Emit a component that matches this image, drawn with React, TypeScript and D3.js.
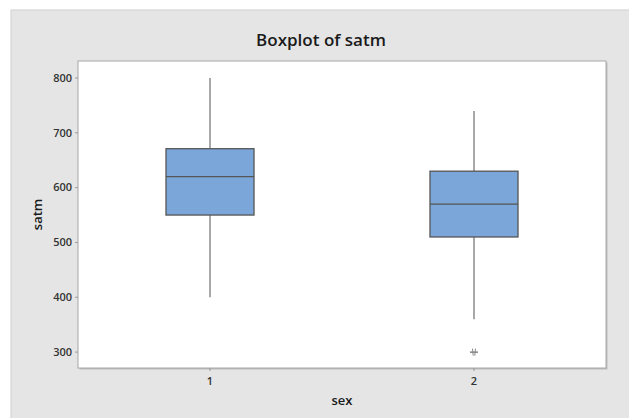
import * as d3 from "d3";

// 値は図から読み取り
const categories = ["1", "2"];
const whiskerLow = [400, 360];
const q1 = [550, 510];
const median = [620, 570];
const q3 = [671, 630];
const whiskerHigh = [800, 740];
const outliers = [[], [300]];
const yTickValues = [300, 400, 500, 600, 700, 800];

const width = 629;
const height = 418;
const plot = { left: 78, top: 61, right: 606, bottom: 368 };
const font = "'Open Sans', 'Noto Sans', sans-serif";

export default function App() {
  const x = d3
    .scalePoint<string>()
    .domain(categories)
    .range([plot.left, plot.right])
    .padding(0.5);
  const y = d3.scaleLinear().domain([271, 831]).range([plot.bottom, plot.top]);
  const boxWidth = 88;

  const boxes = categories.map((c, i) => ({
    name: c,
    cx: x(c) ?? 0,
    low: y(whiskerLow[i]),
    q1: y(q1[i]),
    med: y(median[i]),
    q3: y(q3[i]),
    high: y(whiskerHigh[i]),
    outliers: outliers[i].map((v) => y(v)),
  }));

  return (
    <svg
      width={width}
      height={height}
      style={{ position: "absolute", left: 0, top: 0, background: "#fff" }}
    >
      {/* 背景パネル */}
      <rect x={11} y={10} width={width} height={height} fill="#e5e5e5" stroke="#cfcfcf" />
      <text
        x={321}
        y={46}
        textAnchor="middle"
        style={{ fontFamily: font, fontSize: "17px", fontWeight: 600, fill: "#1a1a1a" }}
      >
        Boxplot of satm
      </text>

      {/* プロット領域 */}
      <rect
        x={plot.left + 1.5}
        y={plot.top + 1.5}
        width={plot.right - plot.left}
        height={plot.bottom - plot.top}
        fill="#bdbdbd"
      />
      <rect
        x={plot.left}
        y={plot.top}
        width={plot.right - plot.left}
        height={plot.bottom - plot.top}
        fill="#fff"
        stroke="#a8a8a8"
      />

      {/* Y軸 */}
      {yTickValues.map((v) => (
        <g key={v}>
          <line x1={plot.left - 3} x2={plot.left} y1={y(v)} y2={y(v)} stroke="#999" />
          <text
            x={plot.left - 6}
            y={y(v)}
            dy="0.35em"
            textAnchor="end"
            style={{ fontFamily: font, fontSize: "11px", fontWeight: 600, fill: "#333" }}
          >
            {v}
          </text>
        </g>
      ))}
      <text
        transform={`translate(42, ${(plot.top + plot.bottom) / 2}) rotate(-90)`}
        textAnchor="middle"
        style={{ fontFamily: font, fontSize: "13px", fontWeight: 600, fill: "#1a1a1a" }}
      >
        satm
      </text>

      {/* X軸 */}
      {categories.map((c) => (
        <g key={c}>
          <line x1={x(c)} x2={x(c)} y1={plot.bottom} y2={plot.bottom + 3} stroke="#999" />
          <text
            x={x(c)}
            y={plot.bottom + 17}
            textAnchor="middle"
            style={{ fontFamily: font, fontSize: "11px", fontWeight: 600, fill: "#333" }}
          >
            {c}
          </text>
        </g>
      ))}
      <text
        x={(plot.left + plot.right) / 2}
        y={405}
        textAnchor="middle"
        style={{ fontFamily: font, fontSize: "13px", fontWeight: 600, fill: "#1a1a1a" }}
      >
        sex
      </text>

      {/* 箱ひげ */}
      {boxes.map((b) => (
        <g key={b.name}>
          <line x1={b.cx} x2={b.cx} y1={b.high} y2={b.q3} stroke="#7a7a7a" strokeWidth={1.3} />
          <line x1={b.cx} x2={b.cx} y1={b.q1} y2={b.low} stroke="#7a7a7a" strokeWidth={1.3} />
          <rect
            x={b.cx - boxWidth / 2}
            y={b.q3}
            width={boxWidth}
            height={b.q1 - b.q3}
            fill="#7ba6d9"
            stroke="#555"
            strokeWidth={1.3}
          />
          <line
            x1={b.cx - boxWidth / 2}
            x2={b.cx + boxWidth / 2}
            y1={b.med}
            y2={b.med}
            stroke="#555"
            strokeWidth={1.3}
          />
          {/* 外れ値（アスタリスク） */}
          {b.outliers.map((oy, i) => (
            <g key={i} transform={`translate(${b.cx}, ${oy})`} stroke="#444" strokeWidth={1}>
              <line x1={-4} x2={4} y1={0} y2={0} />
              <line x1={-1.5} x2={-0.8} y1={-3.5} y2={3.5} stroke="#888" />
              <line x1={1.5} x2={0.8} y1={-3.5} y2={3.5} stroke="#888" />
            </g>
          ))}
        </g>
      ))}
    </svg>
  );
}
